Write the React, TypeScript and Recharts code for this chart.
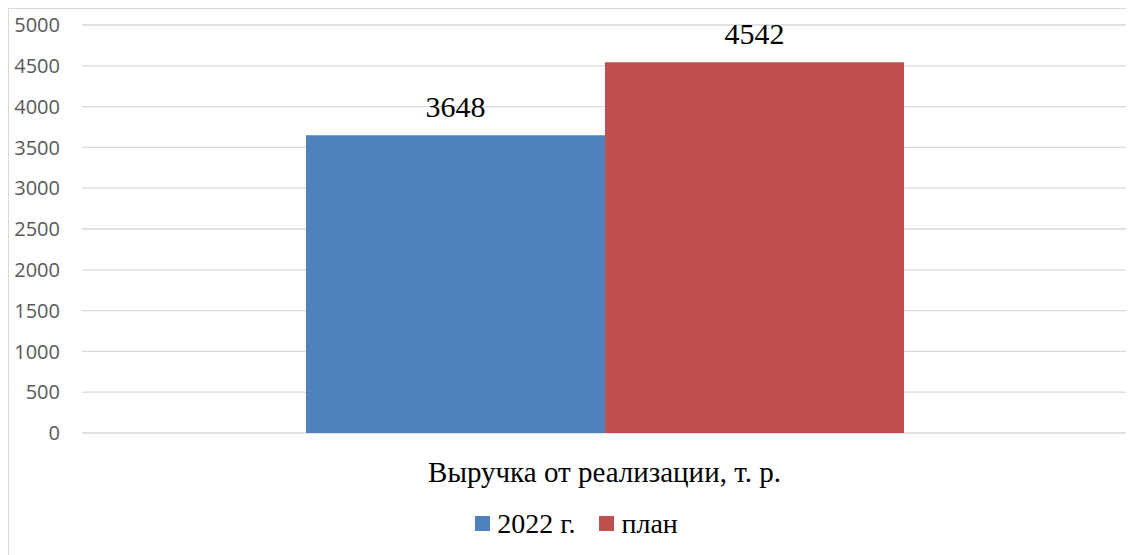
import { BarChart, Bar, XAxis, YAxis, CartesianGrid, Legend, LabelList } from 'recharts'

const categories = ['Выручка от реализации, т. р.']
const revenue2022 = [3648]
const revenuePlan = [4542]
const yTicks = [0, 500, 1000, 1500, 2000, 2500, 3000, 3500, 4000, 4500, 5000]
const seriesNames = ['2022 г.', 'план']

const BLUE = '#4F81BD'
const RED = '#C0504D'
const SERIF = '"Liberation Serif", "Times New Roman", serif'

const chartData = categories.map((name, i) => ({
  name,
  y2022: revenue2022[i],
  plan: revenuePlan[i],
}))

function LegendContent({ payload }: any) {
  return (
    <div
      style={{
        display: 'flex',
        justifyContent: 'center',
        alignItems: 'center',
        height: 30,
        paddingLeft: 17,
        fontFamily: SERIF,
        fontSize: 28,
        color: '#000',
      }}
    >
      {(payload || []).map((entry: any, i: number) => (
        <div key={i} style={{ display: 'flex', alignItems: 'center', marginRight: i === 0 ? 24 : 0 }}>
          <span style={{ width: 15, height: 15, background: entry.color, marginRight: 7, display: 'inline-block' }} />
          <span style={{ lineHeight: '30px', position: 'relative', top: 1 }}>{entry.value}</span>
        </div>
      ))}
    </div>
  )
}

export default function App() {
  return (
    <div style={{ borderLeft: '1px solid #d9d9d9', borderTop: '1px solid #d9d9d9', width: 1125, height: 546 }}>
      <BarChart
        width={1125}
        height={546}
        data={chartData}
        margin={{ top: 16, right: 7, left: 0, bottom: 17 }}
        barCategoryGap={224}
        barGap={0}
      >
        <CartesianGrid vertical={false} stroke="#d9d9d9" strokeWidth={1.3} />
        <XAxis
          dataKey="name"
          height={75}
          axisLine={false}
          tickLine={false}
          tickSize={0}
          tickMargin={28}
          tick={{ fontFamily: SERIF, fontSize: 29, fill: '#000' }}
        />
        <YAxis
          width={73}
          domain={[0, 5000]}
          ticks={yTicks}
          interval={0}
          axisLine={false}
          tickLine={false}
          tickSize={0}
          tickMargin={22}
          tick={{ fontFamily: '"Open Sans", sans-serif', fontSize: 20, fill: '#595959' }}
        />
        <Legend verticalAlign="bottom" content={<LegendContent />} />
        <Bar dataKey="y2022" name={seriesNames[0]} fill={BLUE} isAnimationActive={false}>
          <LabelList dataKey="y2022" position="top" offset={18} style={{ fontFamily: SERIF, fontSize: 30, fill: '#000' }} />
        </Bar>
        <Bar dataKey="plan" name={seriesNames[1]} fill={RED} isAnimationActive={false}>
          <LabelList dataKey="plan" position="top" offset={18} style={{ fontFamily: SERIF, fontSize: 30, fill: '#000' }} />
        </Bar>
      </BarChart>
    </div>
  )
}
